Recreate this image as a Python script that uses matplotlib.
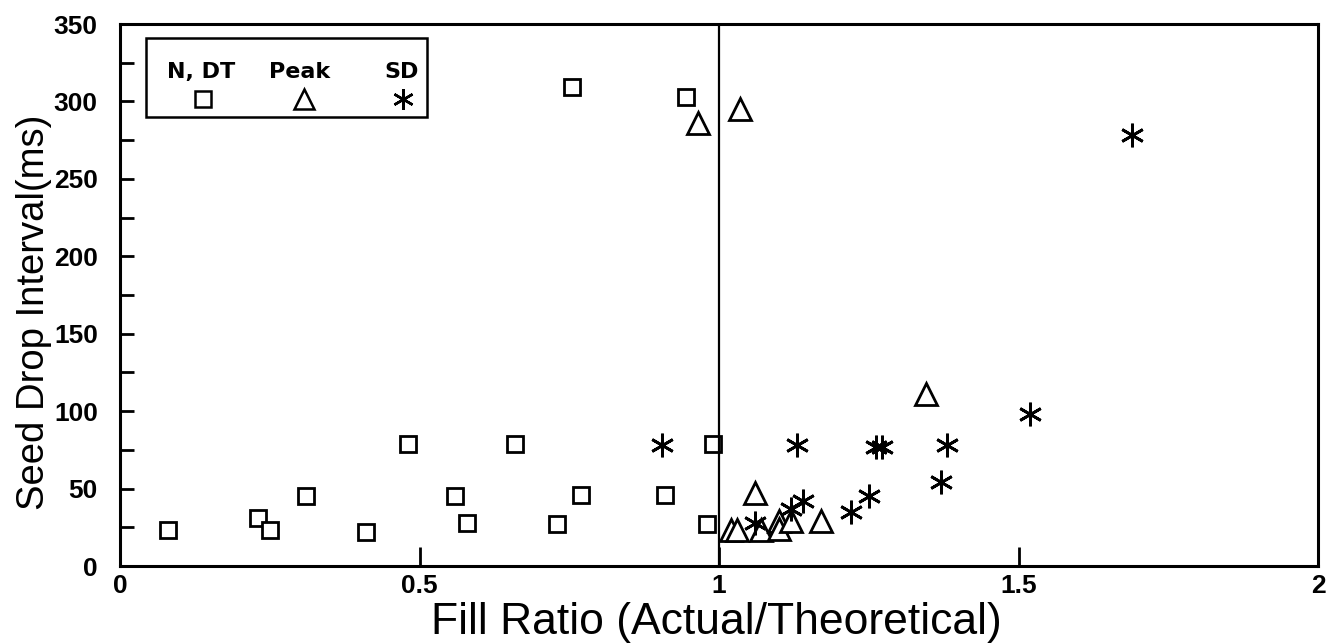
import matplotlib
matplotlib.use("Agg")
import matplotlib.pyplot as plt
from matplotlib.patches import Rectangle
from matplotlib.ticker import MultipleLocator, FixedLocator

# ---- data ----
nd_x = [0.08, 0.23, 0.25, 0.31, 0.41, 0.48, 0.56, 0.58, 0.66, 0.73, 0.755, 0.77, 0.91, 0.945, 0.98, 0.99]
nd_y = [23, 31, 23, 45, 22, 79, 45, 28, 79, 27, 309, 46, 46, 303, 27, 79]
peak_x = [0.965, 1.035, 1.02, 1.03, 1.06, 1.07, 1.10, 1.10, 1.12, 1.17, 1.345]
peak_y = [286, 295, 23, 23, 47, 23, 29, 24, 29, 29, 111]
sd_x = [0.905, 1.06, 1.12, 1.14, 1.13, 1.22, 1.25, 1.262, 1.272, 1.37, 1.38, 1.52, 1.69]
sd_y = [78, 28, 37, 42, 78, 35, 45, 77, 77, 54, 78, 98, 278]
series_names = ["N, DT", "Peak", "SD"]
x_ticks = [0, 0.5, 1, 1.5, 2]
x_ticklabels = ["0", "0.5", "1", "1.5", "2"]

bold_font = ["DejaVu Sans"]
tick_font = ["Liberation Sans", "DejaVu Sans"]
label_font = ["Liberation Sans", "DejaVu Sans"]

fig = plt.figure(figsize=(13.27, 6.43), dpi=100)
ax = fig.add_axes([120/1327, 77/643, 1198/1327, 542/643])

ast = (6, 2, 0)
ax.plot(nd_x, nd_y, ls="none", marker="s", ms=12, mfc="white", mec="black", mew=2)
ax.plot(peak_x, peak_y, ls="none", marker="^", ms=16, mfc="white", mec="black", mew=2)
ax.plot(sd_x, sd_y, ls="none", marker=ast, ms=17, mec="black", mew=2)

ax.axvline(1.0, color="black", lw=1.6)

ax.set_xlim(0, 2)
ax.set_ylim(0, 350)

for s in ax.spines.values():
    s.set_linewidth(2.2)

ax.xaxis.set_major_locator(FixedLocator(x_ticks))
ax.set_xticklabels(x_ticklabels)
ax.yaxis.set_major_locator(MultipleLocator(50))
ax.yaxis.set_minor_locator(MultipleLocator(25))
ax.tick_params(axis="x", which="major", direction="in", length=14, width=2, pad=6, labelsize=19)
ax.tick_params(axis="y", which="major", direction="in", length=10, width=2, pad=16, labelsize=19)
ax.tick_params(axis="y", which="minor", direction="in", length=10, width=2)
fig.canvas.draw()
for lab in ax.get_xticklabels() + ax.get_yticklabels():
    lab.set_fontweight("bold")
    lab.set_family(tick_font)
    lab.set_fontsize(19)

ax.set_xlabel("Fill Ratio (Actual/Theoretical)", fontsize=32, family=label_font)
ax.set_ylabel("Seed Drop Interval(ms)", fontsize=27.5, family=label_font)
ax.xaxis.set_label_coords(0.498, -0.066)
ax.yaxis.set_label_coords(-0.057, 0.468)

# ---- legend box ----
ax.add_patch(Rectangle((0.0217, 0.828), 0.2345, 0.146, transform=ax.transAxes,
                       fill=False, edgecolor="black", lw=1.8, zorder=5))
hx = [0.0676, 0.150, 0.2354]
for name, xx in zip(series_names, hx):
    ax.text(xx, 0.912, name, transform=ax.transAxes, ha="center", va="center",
            fontsize=16, fontweight="bold", family=bold_font)
ax.plot([0.069], [0.862], transform=ax.transAxes, marker="s", ms=11, mfc="white", mec="black", mew=1.8, clip_on=False)
ax.plot([0.154], [0.862], transform=ax.transAxes, marker="^", ms=15, mfc="white", mec="black", mew=1.8, clip_on=False)
ax.plot([0.236], [0.862], transform=ax.transAxes, marker=ast, ms=15, mec="black", mew=1.8, clip_on=False)

fig.savefig("out.png", dpi=100)
